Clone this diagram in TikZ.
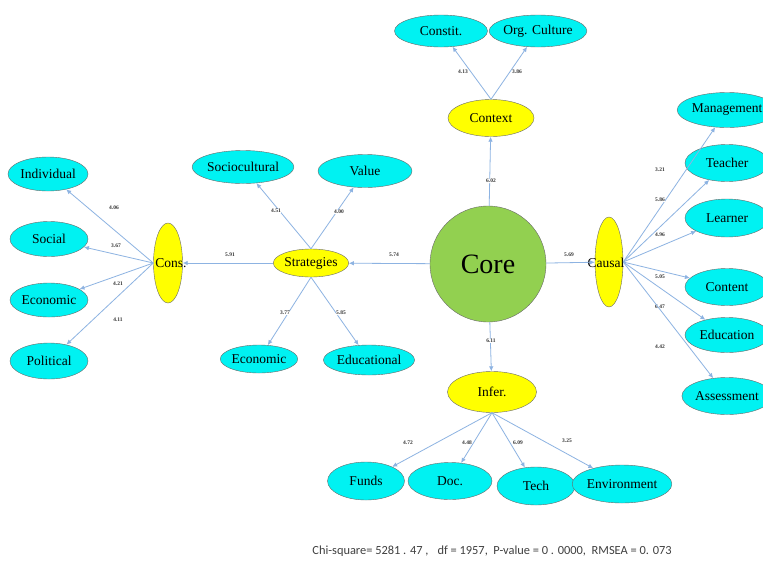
\documentclass[tikz,border=0pt]{standalone}
\usepackage{fontspec}
\setmainfont{Liberation Serif}
\newfontfamily\footfont{Carlito}
\usetikzlibrary{shapes.geometric,arrows.meta}
\definecolor{cyanfill}{RGB}{0,242,242}
\definecolor{latfill}{RGB}{255,255,0}
\definecolor{corefill}{RGB}{146,208,80}
\definecolor{edgeblue}{RGB}{141,179,226}
\definecolor{rim}{RGB}{105,105,105}

\begin{document}
\begin{tikzpicture}[x=1pt,y=-1pt]
    \tikzset{%
      obs/.style={ellipse, draw=rim, fill=cyanfill, inner sep=0pt,
        minimum width=88pt, minimum height=34pt,
        font=\fontsize{13.5}{15}\selectfont},
      lat/.style={ellipse, draw=rim, fill=latfill, inner sep=0pt,
        font=\fontsize{13.5}{15}\selectfont},
      core/.style={circle, draw=rim, fill=corefill, inner sep=0pt,
        minimum size=116pt, font=\fontsize{28}{30}\selectfont},
      link/.style={draw=edgeblue, line width=0.8pt,
        -{Latex[length=5pt,width=4.5pt]}},
      coef/.style={font=\fontsize{5.5}{6}\bfseries\selectfont, inner sep=0.5pt,
        fill=white, text=black!80},
    }
    \clip (0,0) rectangle (763,560);
    \fill[white] (0,0) rectangle (763,560);
    % centre
    \node[core] (core) at (488,264) {Core};
    % context
    \node[lat, minimum width=86pt, minimum height=37pt] (ctx) at (491,118) {Context};
    \node[obs, minimum width=93pt, minimum height=32pt] (constit) at (441,31) {Constit.};
    \node[obs, minimum width=90pt, minimum height=32pt] (orgcult) at (538,31) {Org. Culture};
    \draw[link] (core) -- (ctx) node[coef] at (491,181) {6.02};
    \draw[link] (ctx.north) -- (constit) node[coef] at (463,72) {4.13};
    \draw[link] (ctx.north) -- (orgcult) node[coef] at (517,72) {3.86};
    % strategies
    \node[lat, minimum width=75pt, minimum height=28pt] (strat) at (311,263) {Strategies};
    \node[obs, minimum width=93pt, minimum height=33pt] (socio) at (243,167) {Sociocultural};
    \node[obs, minimum width=94pt, minimum height=33pt] (value) at (365,171) {Value};
    \node[obs, minimum width=73pt, minimum height=28pt] (secon) at (259,359) {Economic};
    \node[obs, minimum width=86pt, minimum height=30pt] (educl) at (369,360) {Educational};
    \draw[link] (core) -- (strat) node[coef] at (394,255) {5.74};
    \draw[link] (strat.north) -- (socio) node[coef] at (276,211) {4.51};
    \draw[link] (strat.north) -- (value) node[coef] at (339,212) {4.00};
    \draw[link] (strat.south) -- (secon) node[coef] at (285,313) {3.77};
    \draw[link] (strat.south) -- (educl) node[coef] at (341,313) {5.85};
    % consequences
    \node[lat, minimum width=29pt, minimum height=80pt] (cons) at (168,263) {};
    \node[font=\fontsize{13.5}{15}\selectfont, inner sep=0pt] (conslbl) at (171,263) {Cons.};
    \node[obs, minimum width=80pt, minimum height=34pt] (indiv) at (48,174) {Individual};
    \node[obs, minimum width=78pt, minimum height=35pt] (social) at (49,239) {Social};
    \node[obs, minimum width=78pt, minimum height=34pt] (cecon) at (49,300) {Economic};
    \node[obs, minimum width=78pt, minimum height=36pt] (polit) at (49,361) {Political};
    \draw[link] (strat) -- (cons) node[coef] at (230,255) {5.91};
    \draw[link] (cons.west) -- (indiv) node[coef] at (114,208) {4.06};
    \draw[link] (cons.west) -- (social) node[coef] at (116,246) {3.67};
    \draw[link] (cons.west) -- (cecon) node[coef] at (118,284) {4.21};
    \draw[link] (cons.west) -- (polit) node[coef] at (118,320) {4.11};
    % causal
    \node[lat, minimum width=28pt, minimum height=90pt] (causal) at (609,262) {};
    \node[font=\fontsize{13.5}{15}\selectfont, inner sep=0pt] (causlbl) at (606,263) {Causal};
    \node[obs, minimum width=84pt, minimum height=35pt] (manag) at (727,110) {Management};
    \node[obs, minimum width=84pt, minimum height=37pt] (teach) at (727,163) {Teacher};
    \node[obs, minimum width=84pt, minimum height=38pt] (learn) at (727,218) {Learner};
    \node[obs, minimum width=84pt, minimum height=37pt] (content) at (727,287) {Content};
    \node[obs, minimum width=84pt, minimum height=35pt] (educn) at (727,335) {Education};
    \node[obs, minimum width=84pt, minimum height=37pt] (assess) at (727,396) {Assessment};
    \draw[link] (core) -- (causal) node[coef] at (569,255) {5.69};
    \draw[link] (causal.east) -- (manag) node[coef] at (660,170) {3.21};
    \draw[link] (causal.east) -- (teach) node[coef] at (660,200) {5.86};
    \draw[link] (causal.east) -- (learn) node[coef] at (660,235) {4.96};
    \draw[link] (causal.east) -- (content) node[coef] at (660,277) {5.05};
    \draw[link] (causal.east) -- (educn) node[coef] at (660,307) {6.47};
    \draw[link] (causal.east) -- (assess) node[coef] at (660,347) {4.42};
    % inferences
    \node[lat, minimum width=89pt, minimum height=41pt] (infer) at (492,392) {Infer.};
    \node[obs, minimum width=77pt, minimum height=38pt] (funds) at (366,481) {Funds};
    \node[obs, minimum width=84pt, minimum height=37pt] (doc) at (450,481) {Doc.};
    \node[obs, minimum width=78pt, minimum height=38pt] (tech) at (536,486) {Tech};
    \node[obs, minimum width=86pt, minimum height=38pt] (envir) at (622,484) {Environment};
    \draw[link] (core) -- (infer) node[coef] at (491,341) {6.11};
    \draw[link] (infer.south) -- (funds) node[coef] at (408,443) {4.72};
    \draw[link] (infer.south) -- (doc) node[coef] at (467,443) {4.48};
    \draw[link] (infer.south) -- (tech) node[coef] at (518,443) {6.09};
    \draw[link] (infer.south) -- (envir) node[coef] at (567,441) {3.25};
    % fit indices
    \node[font=\footfont\fontsize{12.4}{14}\selectfont, text=black!75, inner sep=0pt] (fit) at (492,551)
      {Chi-square= 5281 . 47 ,\enspace\ df = 1957,\ \ P-value = 0 . 0000,\ \ RMSEA = 0. 073};
\end{tikzpicture}
\end{document}
